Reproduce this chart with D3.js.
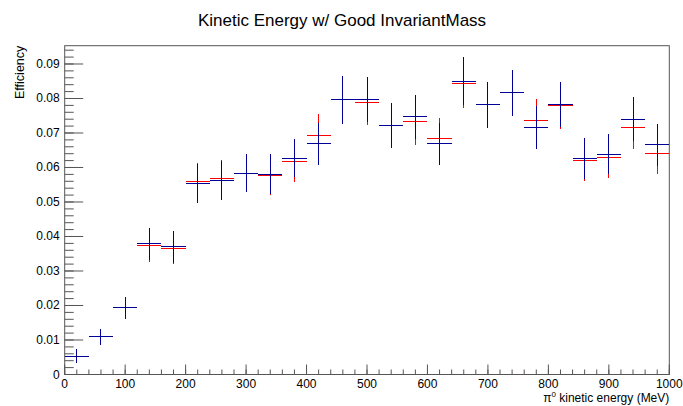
<!DOCTYPE html>
<html>
<head>
<meta charset="utf-8">
<script src="https://cdn.jsdelivr.net/npm/d3@7"></script>
<style>
  body { margin: 0; background: #fff; }
  text { font-family: "Liberation Sans", Arial, sans-serif; }
</style>
</head>
<body>
<script>
// bin centres (MeV), bin half-width 20
let binCenters = [20, 60, 100, 140, 180, 220, 260, 300, 340, 380, 420, 460, 500,
                  540, 580, 620, 660, 700, 740, 780, 820, 860, 900, 940, 980];

// red series
let redVals = [0.00536, 0.01097, 0.01928, 0.03734, 0.03657, 0.05580, 0.05667, 0.05840,
               0.05773, 0.06169, 0.06933, 0.07976, 0.07889, 0.07203, 0.07329, 0.06826,
               0.08420, 0.07812, 0.08169, 0.07367, 0.07783, 0.06217, 0.06296, 0.07155, 0.06401];
let redErrs = [0.0019, 0.0023, 0.0032, 0.0046, 0.0046, 0.0054, 0.0055, 0.0056,
               0.0058, 0.0060, 0.0062, 0.0068, 0.0067, 0.0065, 0.0068, 0.0062,
               0.0070, 0.0066, 0.0067, 0.0062, 0.0066, 0.0060, 0.0059, 0.0063, 0.0059];

// blue series
let blueVals = [0.00536, 0.01097, 0.01928, 0.03792, 0.03696, 0.05541, 0.05628, 0.05840,
                0.05802, 0.06275, 0.06691, 0.07957, 0.07976, 0.07222, 0.07464, 0.06691,
                0.08498, 0.07812, 0.08169, 0.07164, 0.07831, 0.06256, 0.06382, 0.07396, 0.06652];
let blueErrs = [0.0019, 0.0023, 0.0032, 0.0046, 0.0046, 0.0056, 0.0056, 0.0056,
                0.0058, 0.0055, 0.0061, 0.0069, 0.0066, 0.0065, 0.0064, 0.0061,
                0.0070, 0.0066, 0.0067, 0.0063, 0.0065, 0.0059, 0.0058, 0.0064, 0.0060];

let yTicks = [0, 0.01, 0.02, 0.03, 0.04, 0.05, 0.06, 0.07, 0.08, 0.09];
let xTicks = [0, 100, 200, 300, 400, 500, 600, 700, 800, 900, 1000];

let W = 683, H = 406;
let padL = 64.7, padR = 669.3, padT = 45.7, padB = 374.5;

let svg = d3.select("body").append("svg")
    .attr("width", W).attr("height", H);

let x = d3.scaleLinear().domain([0, 1000]).range([padL, padR]);
let y = d3.scaleLinear().domain([0, 0.0953]).range([padB, padT]);

// frame
svg.append("rect")
    .attr("x", padL).attr("y", padT)
    .attr("width", padR - padL).attr("height", padB - padT)
    .attr("fill", "none").attr("stroke", "#555").attr("stroke-width", 1);

// y ticks (major 0.01, minor 0.002)
let yMinor = d3.range(0, 0.0953, 0.002);
svg.selectAll(".ymin").data(yMinor).enter().append("line")
    .attr("x1", padL).attr("x2", padL + 9)
    .attr("y1", d => y(d)).attr("y2", d => y(d))
    .attr("stroke", "#555");
svg.selectAll(".ymaj").data(yTicks).enter().append("line")
    .attr("x1", padL).attr("x2", padL + 18.5)
    .attr("y1", d => y(d)).attr("y2", d => y(d))
    .attr("stroke", "#555");
svg.selectAll(".ylab").data(yTicks).enter().append("text")
    .attr("x", padL - 5).attr("y", d => y(d) + 4)
    .attr("text-anchor", "end").attr("font-size", 12)
    .text(d => d === 0 ? "0" : d3.format(".2f")(d));

// x ticks (major 100, minor 20)
let xMinor = d3.range(0, 1001, 20);
svg.selectAll(".xmin").data(xMinor).enter().append("line")
    .attr("x1", d => x(d)).attr("x2", d => x(d))
    .attr("y1", padB).attr("y2", padB - 5)
    .attr("stroke", "#555");
svg.selectAll(".xmaj").data(xTicks).enter().append("line")
    .attr("x1", d => x(d)).attr("x2", d => x(d))
    .attr("y1", padB).attr("y2", padB - 10)
    .attr("stroke", "#555");
svg.selectAll(".xlab").data(xTicks).enter().append("text")
    .attr("x", d => x(d)).attr("y", padB + 13.5)
    .attr("text-anchor", "middle").attr("font-size", 12)
    .text(d => d);

// error-bar crosses
function drawSeries(vals, errs, color) {
  let g = svg.append("g").attr("stroke", color).attr("stroke-width", 1)
      .attr("shape-rendering", "crispEdges");
  binCenters.forEach((c, i) => {
    g.append("line")
        .attr("x1", x(c - 20)).attr("x2", x(c + 20))
        .attr("y1", y(vals[i])).attr("y2", y(vals[i]));
    g.append("line")
        .attr("x1", x(c)).attr("x2", x(c))
        .attr("y1", y(vals[i] - errs[i])).attr("y2", y(vals[i] + errs[i]));
  });
}
drawSeries(redVals, redErrs, "#ff0000");
drawSeries(blueVals, blueErrs, "#000099");

// title and axis labels
svg.append("text")
    .attr("x", 342).attr("y", 26)
    .attr("text-anchor", "middle").attr("font-size", 17)
    .text("Kinetic Energy w/ Good InvariantMass");

svg.append("text")
    .attr("transform", "translate(24," + padT + ") rotate(-90)")
    .attr("text-anchor", "end").attr("font-size", 12.5)
    .text("Efficiency");

let xl = svg.append("text")
    .attr("x", padR).attr("y", 402)
    .attr("text-anchor", "end").attr("font-size", 12);
xl.append("tspan").text("π");
xl.append("tspan").attr("font-size", 8).attr("dy", -5).text("0");
xl.append("tspan").attr("dy", 5).text(" kinetic energy (MeV)");
</script>
</body>
</html>
